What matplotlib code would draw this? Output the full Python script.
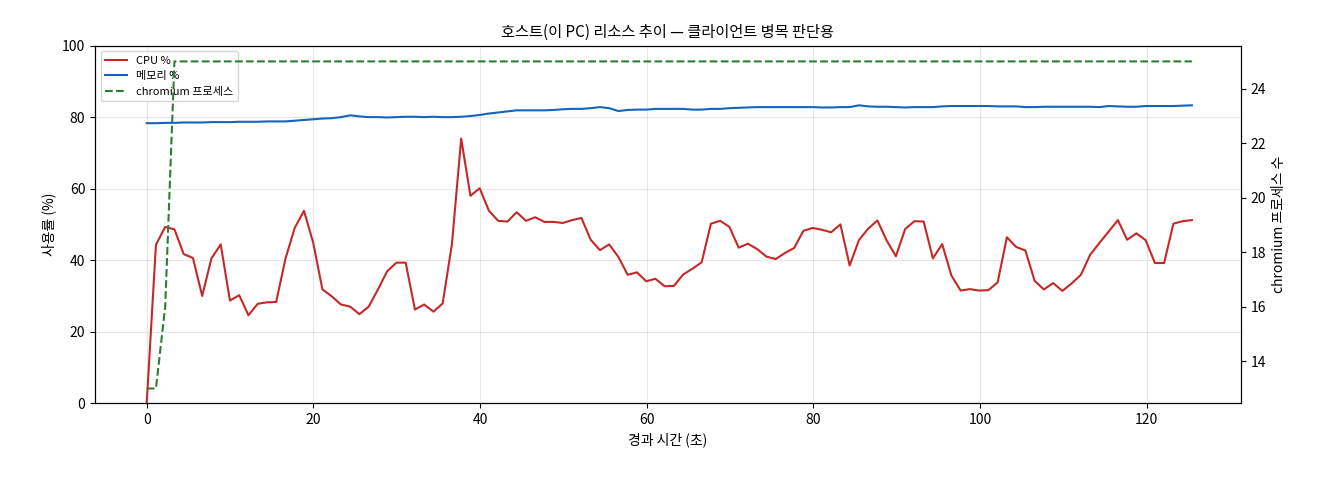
import numpy as np
import matplotlib
matplotlib.use("Agg")
import matplotlib.pyplot as plt

plt.rcParams['font.family'] = ['Noto Sans CJK KR', 'DejaVu Sans']

cpu = [0, 44.3, 49.3, 48.6, 41.7, 40.6, 30, 40.5, 44.4, 28.7, 30.2, 24.6, 27.8, 28.2, 28.3,
       40.4, 49, 53.8, 44.9, 31.8, 29.9, 27.6, 27, 24.9, 27, 31.8, 36.9, 39.3, 39.3, 26.2,
       27.6, 25.6, 27.9, 44.5, 74, 58, 60.1, 53.8,
       51, 50.8, 53.4, 51, 52, 50.7, 50.7, 50.4, 51.2, 51.8, 45.7, 42.8, 44.4, 40.9, 35.9,
       36.6, 34.1, 34.8, 32.7, 32.8, 36, 37.6, 39.4, 50.2, 51, 49.3, 43.5, 44.6, 43.1, 41,
       40.3, 42, 43.4, 48.2, 49, 48.5, 47.8, 50, 38.5, 45.6, 48.8, 51.1, 45.5,
       41.1, 48.7, 50.9, 50.8, 40.5, 44.5, 35.7, 31.5, 31.9, 31.5, 31.6, 33.8, 46.4, 43.7,
       42.7, 34.2, 31.8, 33.6, 31.4, 33.5, 35.9, 41.5, 44.8, 48, 51.2, 45.7, 47.5, 45.6,
       39.2, 39.2, 50.2, 50.9, 51.2]
n = len(cpu)
elapsed = np.round(np.arange(n) * 1.11, 2)

mem = [78.3, 78.3, 78.4, 78.4, 78.5, 78.5, 78.5, 78.6, 78.6, 78.6, 78.7, 78.7, 78.7, 78.8, 78.8,
       78.8, 79.0, 79.2, 79.4, 79.6, 79.7, 80.0, 80.5, 80.2, 80.0, 80.0, 79.9, 80.0, 80.1, 80.1,
       80.0, 80.1, 80.0, 80.0, 80.1, 80.3, 80.6, 81.0, 81.3, 81.6, 81.9, 81.9, 81.9, 81.9, 82.0,
       82.2, 82.3, 82.3, 82.5, 82.8, 82.5, 81.7, 82.0, 82.1, 82.1, 82.3, 82.3, 82.3, 82.3, 82.1,
       82.1, 82.3, 82.3, 82.5, 82.6, 82.7, 82.8, 82.8, 82.8, 82.8, 82.8, 82.8, 82.8, 82.7, 82.7,
       82.8, 82.8, 83.3, 83.0, 82.9, 82.9, 82.8, 82.7, 82.8, 82.8, 82.8, 83.0, 83.1, 83.1, 83.1,
       83.1, 83.1, 83.0, 83.0, 83.0, 82.8, 82.8, 82.9, 82.9, 82.9, 82.9, 82.9, 82.9, 82.8, 83.1,
       83.0, 82.9, 82.9, 83.1, 83.1, 83.1, 83.1, 83.2, 83.3]
mem = (mem + [83.3] * n)[:n]

chromium = [13, 13, 16] + [25] * (n - 3)

fig, ax = plt.subplots(figsize=(13.2, 4.8), dpi=100)
fig.subplots_adjust(left=0.072, right=0.94, top=0.905, bottom=0.16)
l1, = ax.plot(elapsed, cpu, color='#c62828', lw=1.5, label='CPU %')
l2, = ax.plot(elapsed, mem, color='#1565c0', lw=1.5, label='메모리 %')
ax.set_ylim(0, 100)
ax.set_xlim(-6.2, 131.3)
ax.set_xlabel('경과 시간 (초)')
ax.set_ylabel('사용률 (%)')
ax.grid(True, alpha=0.3)
ax2 = ax.twinx()
l3, = ax2.plot(elapsed, chromium, color='#2e7d32', lw=1.5, ls='--', label='chromium 프로세스')
ax2.set_ylim(12.46, 25.58)
ax2.set_ylabel('chromium 프로세스 수')
ax.legend(handles=[l1, l2, l3], loc='upper left', fontsize=8)
ax.set_title('호스트(이 PC) 리소스 추이 — 클라이언트 병목 판단용', fontsize=11)
fig.savefig('out.png')
